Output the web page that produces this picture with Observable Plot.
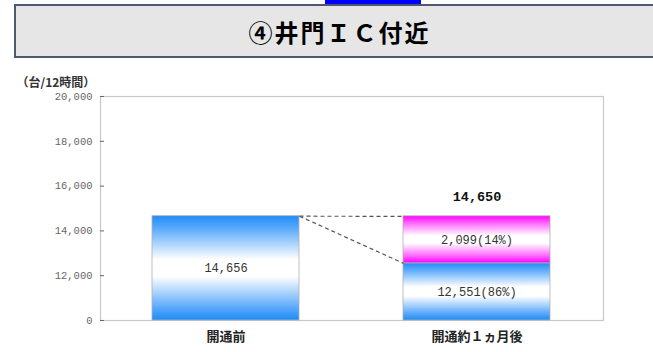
<!DOCTYPE html>
<html>
<head>
<meta charset="utf-8">
<script src="https://cdn.jsdelivr.net/npm/d3@7"></script>
<script src="https://cdn.jsdelivr.net/npm/@observablehq/plot@0.6"></script>
<style>
  html, body { margin: 0; padding: 0; background: #fff; overflow: hidden; }
  #wrap { position: relative; width: 653px; height: 352px; overflow: hidden; }
  #link { position: absolute; left: 325px; top: 0; width: 96px; height: 4px; background: #0000ff; }
  #header { position: relative; height: 60px; }
  #titlebox { position: absolute; left: 14px; top: 4px; right: -12px; height: 50px;
    border: 2.5px solid #4d5872; background: #e6e6e6; display: flex; align-items: center; justify-content: center; }
  #titlebox span { font-family: "Noto Sans CJK JP", sans-serif; font-weight: bold; font-size: 24px; letter-spacing: 2px; color: #000; }
  #chart svg { display: block; }
</style>
</head>
<body>
<div id="wrap">
  <div id="header">
    <div id="link"></div>
    <div id="titlebox"><span>④井門ＩＣ付近</span></div>
  </div>
  <div id="chart"></div>
</div>
<script>
// ---- data ----
const titleText = "④井門ＩＣ付近";
const unitLabel = "（台/12時間）";
const categories = ["開通前", "開通約１ヵ月後"];
const beforeTotal = 14656;
const afterParts = [12551, 2099];      // [lower (blue), upper (magenta)]
const afterShares = ["86%", "14%"];
const afterTotal = 14650;
const yTickValues = [10000, 12000, 14000, 16000, 18000, 20000];
const yTickLabels = ["0", "12,000", "14,000", "16,000", "18,000", "20,000"];

// ---- derived tables ----
const yMin = yTickValues[0];
const fmt = d3.format(",");
const blueSegments = [
  {cat: categories[0], y1: 0, y2: beforeTotal},
  {cat: categories[1], y1: 0, y2: afterParts[0]}
];
const magentaSegments = [
  {cat: categories[1], y1: afterParts[0], y2: afterParts[0] + afterParts[1]}
];
const mid = (a, b) => (Math.max(a, yMin) + b) / 2;
const barLabels = [
  {cat: categories[0], y: mid(0, beforeTotal), text: fmt(beforeTotal)},
  {cat: categories[1], y: mid(0, afterParts[0]), text: `${fmt(afterParts[0])}(${afterShares[0]})`},
  {cat: categories[1], y: mid(afterParts[0], afterParts[0] + afterParts[1]), text: `${fmt(afterParts[1])}(${afterShares[1]})`}
];
const links = [
  {from: categories[0], fromValue: beforeTotal, to: categories[1], toValue: afterTotal},
  {from: categories[0], fromValue: beforeTotal, to: categories[1], toValue: afterParts[0]}
];
const tickLabelOf = new Map(yTickValues.map((v, i) => [v, yTickLabels[i]]));

const defs = () => d3.create("svg:defs").html(`
  <linearGradient id="gBlue" x1="0" y1="0" x2="0" y2="1">
    <stop offset="0" stop-color="#1e8cf8"/>
    <stop offset="0.12" stop-color="#5aa9fb"/>
    <stop offset="0.42" stop-color="#ffffff"/>
    <stop offset="0.58" stop-color="#ffffff"/>
    <stop offset="0.88" stop-color="#5aa9fb"/>
    <stop offset="1" stop-color="#1e8cf8"/>
  </linearGradient>
  <linearGradient id="gMag" x1="0" y1="0" x2="0" y2="1">
    <stop offset="0" stop-color="#ff00ff"/>
    <stop offset="0.15" stop-color="#ff66ff"/>
    <stop offset="0.42" stop-color="#ffffff"/>
    <stop offset="0.58" stop-color="#ffffff"/>
    <stop offset="0.85" stop-color="#ff66ff"/>
    <stop offset="1" stop-color="#ff00ff"/>
  </linearGradient>`).node();

const monoFont = "Liberation Mono, DejaVu Sans Mono, monospace";
const cjkFont = "Noto Sans CJK JP, sans-serif";

const chart = Plot.plot({
  width: 653,
  height: 292,
  marginTop: 36,
  marginBottom: 32,
  marginLeft: 100,
  marginRight: 50,
  style: {background: "transparent"},
  x: {domain: categories, paddingInner: 0.413, paddingOuter: 0.206, axis: null},
  y: {domain: [yTickValues[0], yTickValues[yTickValues.length - 1]], clamp: true, axis: null},
  marks: [
    defs,
    Plot.frame({stroke: "#c8c8c8", strokeWidth: 1.2}),
    Plot.axisY({ticks: yTickValues, tickFormat: d => tickLabelOf.get(d), tickSize: 4, tickPadding: 8, dx: 4,
      color: "#666", fontSize: 10.5, fontFamily: monoFont, label: null}),
    Plot.barY(blueSegments, {x: "cat", y1: "y1", y2: "y2", fill: "url(#gBlue)", stroke: "#b0b0b0", strokeWidth: 0.8}),
    Plot.barY(magentaSegments, {x: "cat", y1: "y1", y2: "y2", fill: "url(#gMag)", stroke: "#b0b0b0", strokeWidth: 0.8}),
    Plot.link(links, {
      x1: "from", x2: "to", y1: "fromValue", y2: "toValue",
      stroke: "#555", strokeWidth: 1.2, strokeDasharray: "4,3",
      render(index, scales, values, dimensions, context, next) {
        const bw = typeof scales.x.bandwidth === "function" ? scales.x.bandwidth() : scales.x.bandwidth;
        // scales.x returns the band centre here
        const X1 = Float64Array.from(links, d => scales.x(d.from) + bw / 2);
        const X2 = Float64Array.from(links, d => scales.x(d.to) - bw / 2);
        return next(index, scales, {...values, x1: X1, x2: X2}, dimensions, context);
      }
    }),
    Plot.text(barLabels, {x: "cat", y: "y", text: "text", fontSize: 12, fontFamily: monoFont, fill: "#333"}),
    Plot.text([afterTotal], {x: () => categories[1], y: d => d, text: d => fmt(d), dy: -20,
      fontSize: 13.5, fontWeight: "bold", fontFamily: monoFont, fill: "#111"}),
    Plot.text(categories, {x: d => d, frameAnchor: "bottom", dy: 20, text: d => d,
      fontSize: 13, fontWeight: "bold", fontFamily: cjkFont, fill: "#222"}),
    Plot.text([unitLabel], {frameAnchor: "top-left", dx: -84, dy: -18, text: d => d, textAnchor: "start",
      fontSize: 12, fontWeight: "bold", fontFamily: cjkFont, fill: "#333"})
  ]
});
document.getElementById("chart").appendChild(chart);
</script>
</body>
</html>
